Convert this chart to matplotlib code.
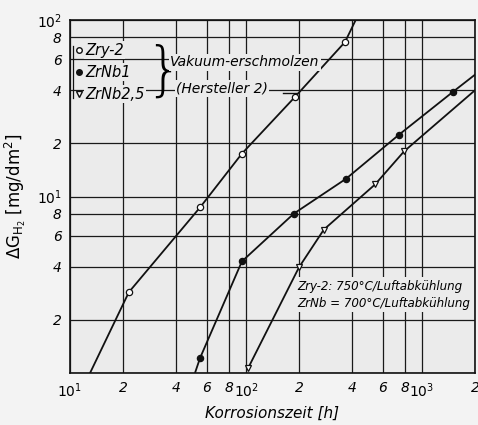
import matplotlib
matplotlib.use("Agg")
import matplotlib.pyplot as plt
import numpy as np

# (log-log)
zry2_t = [13, 21.6, 54.8, 94.8, 190, 365, 420]
zry2_g = [1.0, 2.87, 8.67, 17.5, 36.7, 75, 100]
zry2_mark = [21.6, 54.8, 94.8, 190, 365]

zrnb1_t = [51.3, 54.8, 94.8, 187, 370, 740, 1500, 2000]
zrnb1_g = [1.0, 1.215, 4.29, 8.0, 12.6, 22.4, 39.2, 49]
zrnb1_mark = [54.8, 94.8, 187, 370, 740, 1500]

zrnb25_t = [103, 200, 277, 541, 790, 2000]
zrnb25_g = [1.07, 3.97, 6.5, 11.7, 18.0, 40]
zrnb25_mark = [103, 200, 277, 541, 790]

xticks = [10, 20, 40, 60, 80, 100, 200, 400, 600, 800, 1000, 2000]
xlabels = ['$10^1$', '2', '4', '6', '8', '$10^2$', '2', '4', '6', '8', '$10^3$', '2']
yticks = [1, 2, 4, 6, 8, 10, 20, 40, 60, 80, 100]
ylabels = ['', '2', '4', '6', '8', '$10^1$', '2', '4', '6', '8', '$10^2$']

plt.rcParams['font.family'] = 'DejaVu Sans'
plt.rcParams['mathtext.fontset'] = 'dejavusans'
plt.rcParams['mathtext.default'] = 'it'

fig = plt.figure(figsize=(4.78, 4.25), dpi=100, facecolor='#f3f3f3')
ax = fig.add_axes([70/478, 1-373/425, 405/478, 353/425])
ax.set_facecolor('#ebebeb')
ax.set_xscale('log')
ax.set_yscale('log')
ax.set_xlim(10, 2000)
ax.set_ylim(1, 100)

ax.set_xticks(xticks)
ax.set_xticklabels(xlabels, fontstyle='italic', fontsize=10)
ax.set_yticks(yticks)
ax.set_yticklabels(ylabels, fontstyle='italic', fontsize=10)
ax.minorticks_off()
ax.tick_params(length=0, pad=6)
ax.grid(True, color='#1a1a1a', linewidth=0.9)
for s in ax.spines.values():
    s.set_linewidth(1.2)
    s.set_color('#111111')

def series(t, g, marks, marker, fc):
    ax.plot(t, g, color='#111111', linewidth=1.3, zorder=3)
    mg = [g[t.index(m)] for m in marks]
    ax.plot(marks, mg, linestyle='none', marker=marker, markersize=4.5,
            markerfacecolor=fc, markeredgecolor='#111111', markeredgewidth=0.9, zorder=4)

series(zry2_t, zry2_g, zry2_mark, 'o', 'white')
series(zrnb1_t, zrnb1_g, zrnb1_mark, 'o', '#111111')
series(zrnb25_t, zrnb25_g, zrnb25_mark, 'v', 'white')

# legend block in the upper left
bg = '#ebebeb'
leg = [('o', 'white', 'Zry-2', 0.915), ('o', '#111111', 'ZrNb1', 0.852), ('v', 'white', 'ZrNb2,5', 0.79)]
for mk, fc, txt, yy in leg:
    ax.plot([0.022], [yy], transform=ax.transAxes, marker=mk, markersize=4,
            markerfacecolor=fc, markeredgecolor='#111111', linestyle='none', zorder=6, clip_on=False)
    ax.text(0.037, yy, txt, transform=ax.transAxes, fontsize=10.5, fontstyle='italic',
            va='center', ha='left', zorder=5,
            bbox=dict(facecolor=bg, edgecolor='none', pad=1))
ax.plot([0.008, 0.008], [0.78, 0.925], transform=ax.transAxes, color='#111111',
        linewidth=0.9, zorder=5)
ax.text(0.232, 0.852, '}', transform=ax.transAxes, fontsize=42, va='center', ha='center',
        fontweight='light', zorder=5)
ax.text(0.247, 0.88, 'Vakuum-erschmolzen', transform=ax.transAxes, fontsize=10,
        fontstyle='italic', va='center', ha='left', zorder=5,
        bbox=dict(facecolor=bg, edgecolor='none', pad=1))
ax.text(0.262, 0.807, '(Hersteller 2)', transform=ax.transAxes, fontsize=10,
        fontstyle='italic', va='center', ha='left', zorder=5,
        bbox=dict(facecolor=bg, edgecolor='none', pad=1))
ax.plot([0.525, 0.56], [0.794, 0.794], transform=ax.transAxes, color='#111111',
        linewidth=1.0, zorder=5)

# conditions note
ax.text(0.562, 0.221, 'Zry-2: 750°C/Luftabkühlung\nZrNb = 700°C/Luftabkühlung',
        transform=ax.transAxes, fontsize=8.6, fontstyle='italic', va='center', ha='left',
        linespacing=1.35, zorder=5,
        bbox=dict(facecolor=bg, edgecolor='none', pad=2))

ax.set_xlabel('Korrosionszeit [h]', fontsize=11, fontstyle='italic', labelpad=4)
ax.set_ylabel('ΔG$_{\\mathrm{H_2}}$ [mg/dm$^2$]', fontsize=12, labelpad=6)

fig.savefig('out.png', dpi=100, facecolor=fig.get_facecolor())
